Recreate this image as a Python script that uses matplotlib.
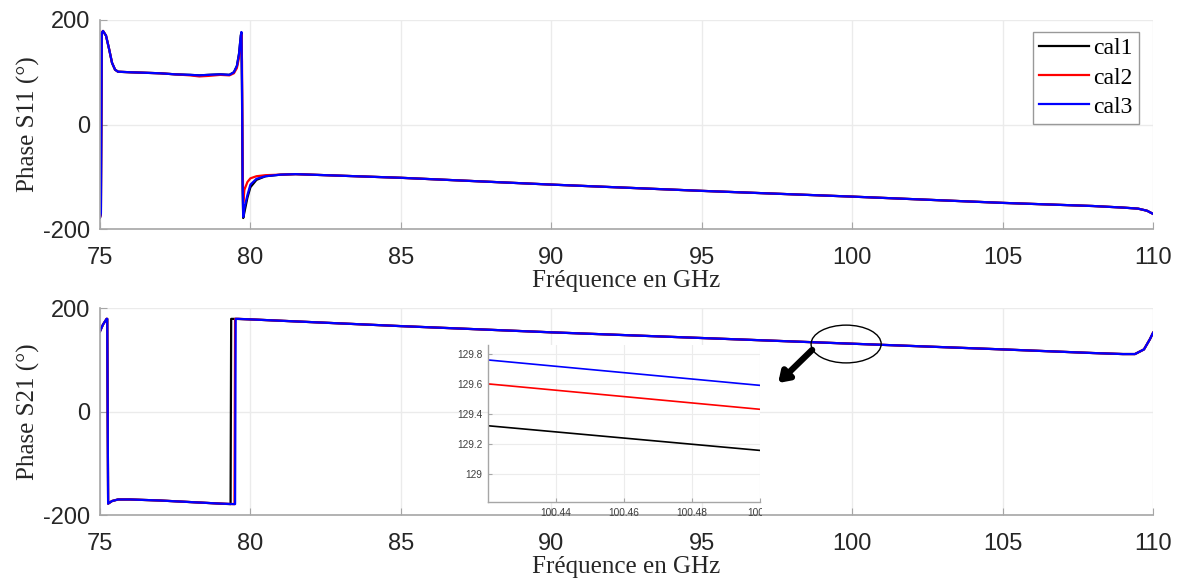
import matplotlib
matplotlib.use("Agg")
import matplotlib.pyplot as plt
import numpy as np
from matplotlib.patches import Ellipse
from matplotlib.transforms import Bbox, TransformedBbox

plt.rcParams["axes.unicode_minus"] = False

# ---------------- data ----------------
# Phase S11
f11 = [75.00, 75.03, 75.06, 75.10, 75.20, 75.30, 75.40, 75.50, 75.60, 76.00, 76.50,
       77.00, 77.50, 78.00, 78.30, 78.60, 79.00, 79.30, 79.45, 79.55, 79.62, 79.68,
       79.70, 79.72, 79.74, 79.76, 79.80, 79.90, 80.00, 80.20, 80.50, 81.00, 81.50,
       82.00, 83.00, 85.00, 90.00, 95.00, 100.00, 105.00, 108.00, 109.00, 109.50,
       109.80, 110.00]
s11_cal1 = [-178, -170, 175, 179, 170, 145, 118, 105, 101, 100, 99,
            98, 96, 95, 94, 95, 96, 95, 100, 112, 135, 170,
            176, 60, -120, -179, -168, -140, -120, -106, -99, -96, -95,
            -96, -98, -102, -115, -127, -138, -150, -156, -159, -161,
            -165, -171]
s11_cal2 = [-178, -170, 175, 179, 170, 145, 118, 105, 101, 100, 99,
            98, 96, 94, 92, 93, 95, 94, 98, 108, 128, 160,
            172, 120, -60, -150, -125, -110, -103, -99, -97, -96, -95,
            -96, -98, -102, -115, -127, -138, -150, -156, -159, -161,
            -165, -171]
s11_cal3 = [-178, -170, 175, 179, 170, 145, 118, 105, 101, 100, 99,
            98, 96, 95, 94, 95, 96, 95, 100, 112, 135, 170,
            177, 80, -110, -177, -160, -135, -115, -104, -99, -96, -95,
            -96, -98, -102, -115, -127, -138, -150, -156, -159, -161,
            -165, -171]

# Phase S21
f21_cal1 = [75.00, 75.10, 75.22, 75.24, 75.27, 75.40, 75.60, 76.00, 77.00, 78.00,
            79.00, 79.34, 79.36, 79.50, 80.00, 85.00, 90.00, 95.00, 100.00, 105.00,
            108.00, 109.00, 109.40, 109.70, 109.90, 110.00]
s21_cal1 = [155, 168, 179, 179, -178, -173, -170, -170, -172, -175,
            -178, -179, 179, 179, 178, 165, 153, 142, 131, 120,
            113, 111, 111, 120, 140, 152]
f21_cal2 = [75.00, 75.10, 75.22, 75.24, 75.27, 75.40, 75.60, 76.00, 77.00, 78.00,
            79.00, 79.47, 79.49, 79.60, 80.00, 85.00, 90.00, 95.00, 100.00, 105.00,
            108.00, 109.00, 109.40, 109.70, 109.90, 110.00]
s21_cal2 = [155, 168, 179, 179, -178, -173, -170, -170, -172, -175,
            -178, -179, 179, 179, 178, 165, 153, 142, 131, 120,
            113, 111, 111, 120, 140, 152]
f21_cal3 = [75.00, 75.10, 75.22, 75.24, 75.27, 75.40, 75.60, 76.00, 77.00, 78.00,
            79.00, 79.49, 79.51, 79.60, 80.00, 85.00, 90.00, 95.00, 100.00, 105.00,
            108.00, 109.00, 109.40, 109.70, 109.90, 110.00]
s21_cal3 = [155, 168, 179, 179, -178, -173, -170, -170, -172, -175,
            -178, -179, 179, 179, 178, 165, 153, 142, 131, 120,
            113, 111, 111, 120, 140, 152]

# zoomed inset
f_zoom = [100.42, 100.50]
zoom_cal1 = [129.32, 129.155]
zoom_cal2 = [129.60, 129.43]
zoom_cal3 = [129.76, 129.59]

labels = ["cal1", "cal2", "cal3"]
colors = ["#000000", "#ff0000", "#0000ff"]
xticks = [75, 80, 85, 90, 95, 100, 105, 110]
yticks = [-200, 0, 200]
zoom_xticks = [100.44, 100.46, 100.48, 100.50]
zoom_yticks = [129.0, 129.2, 129.4, 129.6, 129.8]

# ---------------- figure ----------------
W, H = 1183, 580
fig = plt.figure(figsize=(W / 100, H / 100), dpi=100)

def fr(x0, y0, x1, y1):
    return [x0 / W, 1 - y1 / H, (x1 - x0) / W, (y1 - y0) / H]

serif = ["Liberation Serif", "DejaVu Serif"]
sans = ["Liberation Sans", "DejaVu Sans"]
spine_c = "#a6a6a6"
grid_c = "#ebebeb"
tick_c = "#262626"

def style(ax, ylabel):
    ax.set_xlim(75, 110)
    ax.set_ylim(-200, 200)
    ax.set_xticks(xticks)
    ax.set_yticks(yticks)
    ax.grid(True, color=grid_c, lw=1.0)
    ax.set_axisbelow(True)
    for s in ["top", "right"]:
        ax.spines[s].set_visible(False)
    for s in ["left", "bottom"]:
        ax.spines[s].set_color(spine_c)
        ax.spines[s].set_linewidth(1.2)
    ax.tick_params(direction="in", length=5, color=spine_c, labelsize=17,
                   labelcolor=tick_c)
    ax.tick_params(axis="x", pad=13)
    ax.tick_params(axis="y", pad=7)
    for lab in ax.get_xticklabels() + ax.get_yticklabels():
        lab.set_family(sans)
    ax.set_xlabel("Fréquence en GHz", family=serif, fontsize=18, color="#262626", labelpad=1)
    ax.set_ylabel(ylabel, family=serif, fontsize=18, color="#262626", labelpad=2)

ax1 = fig.add_axes(fr(100, 20, 1153, 229))
for y, c, l in zip([s11_cal1, s11_cal2, s11_cal3], colors, labels):
    ax1.plot(f11, y, color=c, lw=1.6, label=l)
style(ax1, "Phase S11 (°)")
leg = ax1.legend(loc="upper right", bbox_to_anchor=(1139 / W, 1 - 32 / H),
                 bbox_transform=fig.transFigure, borderaxespad=0,
                 prop={"family": serif, "size": 17}, fancybox=False,
                 edgecolor="#999999", framealpha=1, handlelength=2.1,
                 handletextpad=0.2, labelspacing=0.32, borderpad=0.25)
leg.get_frame().set_linewidth(1.0)

ax2 = fig.add_axes(fr(100, 308, 1153, 515))
for fx, y, c, l in zip([f21_cal1, f21_cal2, f21_cal3], [s21_cal1, s21_cal2, s21_cal3], colors, labels):
    ax2.plot(fx, y, color=c, lw=1.6, label=l)
style(ax2, "Phase S21 (°)")

# ellipse + arrow
ax2.add_patch(Ellipse((99.80, 130.4), 2.33, 73, fill=False, ec="black", lw=1.0, zorder=5))
ax2.annotate("", xy=(97.54, 55), xytext=(98.67, 119),
             arrowprops=dict(arrowstyle="-|>,head_length=0.6,head_width=0.4",
                             color="black", lw=4.5, shrinkA=0, shrinkB=0), zorder=6)

# inset
axi = fig.add_axes(fr(488, 345, 760, 502))
axi.set_facecolor("white")
for y, c in zip([zoom_cal1, zoom_cal2, zoom_cal3], colors):
    axi.plot(f_zoom, y, color=c, lw=1.2)
axi.set_xlim(100.42, 100.50)
axi.set_ylim(128.81, 129.86)
axi.set_xticks(zoom_xticks)
axi.set_yticks(zoom_yticks)
axi.set_xticklabels(["100.44", "100.46", "100.48", "100.5"])
axi.set_yticklabels(["129", "129.2", "129.4", "129.6", "129.8"])
axi.grid(True, color="#ececec", lw=0.8)
axi.set_axisbelow(True)
for s in ["top", "right"]:
    axi.spines[s].set_visible(False)
for s in ["left", "bottom"]:
    axi.spines[s].set_color(spine_c)
    axi.spines[s].set_linewidth(1.0)
axi.tick_params(direction="in", length=3, color=spine_c, labelsize=7.3,
                labelcolor="#404040", pad=4)
clipbox = TransformedBbox(Bbox([[430 / W, 1 - 540 / H], [762 / W, 1 - 330 / H]]), fig.transFigure)
for lab in axi.get_xticklabels() + axi.get_yticklabels():
    lab.set_family(sans)
for lab in axi.get_xticklabels():
    lab.set_clip_on(True)
    lab.set_clip_box(clipbox)

fig.savefig("out.png", dpi=100, facecolor="white")
